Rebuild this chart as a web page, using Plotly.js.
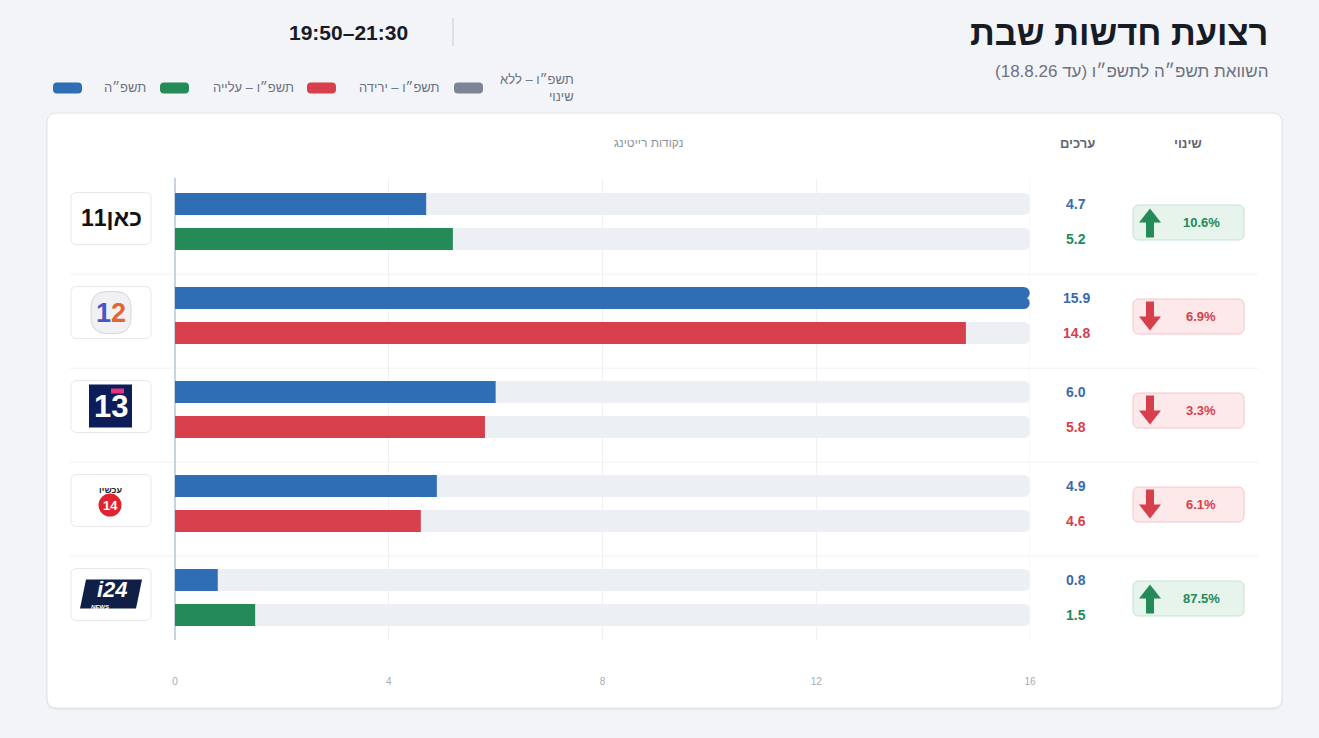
<!DOCTYPE html>
<html lang="he">
<head>
<meta charset="utf-8">
<script src="https://cdn.plot.ly/plotly-3.0.1.min.js"></script>
<style>
  html, body { margin: 0; padding: 0; background: #f3f4f8; }
  #chart { width: 1319px; height: 738px; }
</style>
</head>
<body>
<div id="chart"></div>
<script>
// ---- data ----
const channels   = ["כאן 11", "קשת 12", "רשת 13", "עכשיו 14", "i24NEWS"];
const rating2025 = [4.7, 15.9, 6.0, 4.9, 0.8];   // תשפ"ה
const rating2026 = [5.2, 14.8, 5.8, 4.6, 1.5];   // תשפ"ו
const tickVals   = [0, 4, 8, 12, 16];
const legendLabels = ["תשפ״ה", "תשפ״ו – עלייה", "תשפ״ו – ירידה", "תשפ״ו – ללא<br>שינוי"];

const W = 1319, H = 738;
const FONT = '"Liberation Sans", Arial, sans-serif';
const BLUE = "#2f6db4", GREEN = "#248a58", RED = "#d63f4b", GRAY = "#7c8496";
const TRACK = "#eceff3";

const px = x => x / W;
const py = y => 1 - y / H;
const rtl = s => "\u202B" + s + "\u202C";

const xMax = tickVals[tickVals.length - 1];
const OFF = 0.186, BW = 0.234;
const yA = rating2025.map((_, i) => i - OFF);
const yB = rating2026.map((_, i) => i + OFF);
const dir = rating2026.map((v, i) => v > rating2025[i] ? "up" : v < rating2025[i] ? "down" : "flat");
const colB = dir.map(d => d === "up" ? GREEN : d === "down" ? RED : GRAY);
const pct = rating2026.map((v, i) => Math.abs((v - rating2025[i]) / rating2025[i] * 100).toFixed(1) + "%");

// ---- path helpers: screen pixels (y down), turned into pixel-sizemode paths ----
function rr(x0, y0, x1, y1, r) {
  const Y = v => -v;
  return `M${x0 + r},${Y(y0)} L${x1 - r},${Y(y0)} Q${x1},${Y(y0)} ${x1},${Y(y0 + r)} ` +
         `L${x1},${Y(y1 - r)} Q${x1},${Y(y1)} ${x1 - r},${Y(y1)} L${x0 + r},${Y(y1)} ` +
         `Q${x0},${Y(y1)} ${x0},${Y(y1 - r)} L${x0},${Y(y0 + r)} Q${x0},${Y(y0)} ${x0 + r},${Y(y0)} Z`;
}
function poly(pts) {
  return "M" + pts.map(p => `${p[0]},${-p[1]}`).join(" L") + " Z";
}
function sh(path, yref, yanchor, fill, line, lw, layer) {
  return {
    type: "path", xref: "paper", yref: yref, xsizemode: "pixel", ysizemode: "pixel",
    xanchor: 0, yanchor: yanchor, path: path,
    fillcolor: fill || "rgba(0,0,0,0)",
    line: { color: line || "rgba(0,0,0,0)", width: lw || 0 },
    layer: layer || "above",
  };
}
const page = (path, fill, line, lw, layer) => sh(path, "paper", 1, fill, line, lw, layer);
const row  = (i, path, fill, line, lw) => sh(path, "y", i, fill, line, lw, "above");
function circ(i, cx, dy, r, fill) {
  return { type: "circle", xref: "paper", yref: "y", xsizemode: "pixel", ysizemode: "pixel",
           xanchor: px(cx), yanchor: i, x0: -r, x1: r, y0: -dy - r, y1: -dy + r,
           fillcolor: fill, line: { width: 0 }, layer: "above" };
}

// ---- traces ----
const base = { type: "bar", orientation: "h", width: BW, hoverinfo: "skip", showlegend: false };
const data = [
  { ...base, x: yA.map(() => xMax), y: yA, marker: { color: TRACK, cornerradius: 6 } },
  { ...base, x: yB.map(() => xMax), y: yB, marker: { color: TRACK, cornerradius: 6 } },
  { ...base, x: rating2025, y: yA, marker: { color: BLUE, cornerradius: 6 } },
  { ...base, x: rating2026, y: yB, marker: { color: colB, cornerradius: 6 } },
];

// ---- shapes ----
const shapes = [
  page(rr(46, 113, 1283, 710, 11), "#e7e9ee", null, 0, "below"),
  page(rr(47, 113, 1282, 708, 10), "#ffffff", "#e1e4ea", 1, "below"),
  page("M453,-18 L453,-46", null, "#d6d9df", 1.5, "above"),
  { type: "line", xref: "x", yref: "paper", x0: xMax, x1: xMax, y0: py(640), y1: py(178),
    line: { color: "#eef0f4", width: 1 }, layer: "below" },
];
// legend swatches
const swatchX = [53, 160, 307, 454];
const swatchC = [BLUE, GREEN, RED, GRAY];
swatchX.forEach((x, k) => shapes.push(page(rr(x, 82.5, x + 29, 93.5, 4), swatchC[k])));

// row separators
for (let i = 0; i < channels.length - 1; i++) {
  shapes.push({ type: "line", xref: "paper", yref: "y", x0: px(70), x1: px(1258),
                y0: i + 0.56, y1: i + 0.56, line: { color: "#eef0f3", width: 1 }, layer: "below" });
}

channels.forEach((c, i) => {
  // logo box
  shapes.push(row(i, rr(71, -29, 151, 23, 6), "#ffffff", "#e6e8ec", 1));
  // change badge + arrow
  const up = dir[i] === "up";
  shapes.push(row(i, rr(1133, -16.5, 1244, 18.5, 6),
                  up ? "#e6f4ec" : "#fde8ea", up ? "#c3e3cf" : "#f4c4ca", 1));
  const ax = 1150, s = up ? 1 : -1;
  shapes.push(row(i, poly([[ax, 1 - 14 * s], [ax + 11, 1], [ax + 4, 1], [ax + 4, 1 + 15 * s],
                           [ax - 4, 1 + 15 * s], [ax - 4, 1], [ax - 11, 1]]),
                  up ? GREEN : RED));
});

// logo decorations
shapes.push(row(1, rr(91, -24, 131, 18, 16), "#f1f1f3", "#d5d6da", 1));                 // 12 blob
shapes.push(row(2, rr(89, -25, 132, 18, 0), "#0c1d5a"));                                // 13 square
shapes.push(row(2, rr(111, -21, 124, -16, 0), "#e8327c"));                              // 13 accent
shapes.push(circ(3, 110, 1.5, 11.5, "#e0242f"));                                        // 14 circle
shapes.push(row(4, poly([[86, -18], [142, -18], [136, 11], [80, 11]]), "#0f1f45"));     // i24 plate

// ---- annotations ----
const A = (o) => ({ showarrow: false, font: { family: FONT, size: 13, color: "#6b7280" }, ...o });
const annotations = [
  A({ x: px(1270), y: py(33), xref: "paper", yref: "paper", xanchor: "right", yanchor: "middle",
      text: "<b>" + rtl("רצועת חדשות שבת") + "</b>", font: { family: FONT, size: 34.5, color: "#161b26" } }),
  A({ x: px(1270), y: py(72), xref: "paper", yref: "paper", xanchor: "right", yanchor: "middle",
      text: rtl("השוואת תשפ״ה לתשפ״ו (עד 18.8.26)"), font: { family: FONT, size: 17, color: "#6b7280" } }),
  A({ x: px(348), y: py(33), xref: "paper", yref: "paper", xanchor: "center", yanchor: "middle",
      text: "<b>19:50–21:30</b>", font: { family: FONT, size: 21, color: "#161b26" } }),
  A({ x: px(648), y: py(143), xref: "paper", yref: "paper", xanchor: "center", yanchor: "middle",
      text: rtl("נקודות רייטינג"), font: { family: FONT, size: 12, color: "#8b919b" } }),
  A({ x: px(1077), y: py(143), xref: "paper", yref: "paper", xanchor: "center", yanchor: "middle",
      text: "<b>ערכים</b>", font: { family: FONT, size: 13, color: "#5f6673" } }),
  A({ x: px(1188), y: py(143), xref: "paper", yref: "paper", xanchor: "center", yanchor: "middle",
      text: "<b>שינוי</b>", font: { family: FONT, size: 13, color: "#5f6673" } }),
];
const legendRight = [148, 296, 442, 576];
legendLabels.forEach((t, k) => annotations.push(A({
  x: px(legendRight[k]), y: py(k === 3 ? 88.5 : 88), xref: "paper", yref: "paper",
  xanchor: "right", yanchor: "middle", align: "right",
  text: t.split("<br>").map(rtl).join("<br>"),
  font: { family: FONT, size: 13, color: "#6b7280" } })));

channels.forEach((c, i) => {
  annotations.push(A({ x: px(1076), y: yA[i], xref: "paper", yref: "y", xanchor: "center", yanchor: "middle",
    text: "<b>" + rating2025[i].toFixed(1) + "</b>", font: { family: FONT, size: 14, color: "#3a6aa9" } }));
  annotations.push(A({ x: px(1076), y: yB[i], xref: "paper", yref: "y", xanchor: "center", yanchor: "middle",
    text: "<b>" + rating2026[i].toFixed(1) + "</b>", font: { family: FONT, size: 14, color: colB[i] } }));
  annotations.push(A({ x: px(1201), y: i, yshift: -1, xref: "paper", yref: "y", xanchor: "center", yanchor: "middle",
    text: "<b>" + pct[i] + "</b>", font: { family: FONT, size: 13, color: colB[i] } }));
});

// logo texts
annotations.push(A({ x: px(111), y: 0, yshift: 4, xref: "paper", yref: "y", xanchor: "center", yanchor: "middle",
  text: "<b>" + rtl("כאן11") + "</b>", font: { family: FONT, size: 23, color: "#111111" } }));
annotations.push(A({ x: px(111), y: 1, yshift: 3, xref: "paper", yref: "y", xanchor: "center", yanchor: "middle",
  text: "<b><span style='color:#4a55c9'>1</span><span style='color:#e2662e'>2</span></b>",
  font: { family: FONT, size: 27, color: "#4a55c9" } }));
annotations.push(A({ x: px(111), y: 2, yshift: 3, xref: "paper", yref: "y", xanchor: "center", yanchor: "middle",
  text: "<b>13</b>", font: { family: FONT, size: 31, color: "#ffffff" } }));
annotations.push(A({ x: px(110), y: 3, yshift: 14, xref: "paper", yref: "y", xanchor: "center", yanchor: "middle",
  text: "<b>עכשיו</b>", font: { family: FONT, size: 9, color: "#2b2b2b" } }));
annotations.push(A({ x: px(110), y: 3, yshift: -1.5, xref: "paper", yref: "y", xanchor: "center", yanchor: "middle",
  text: "<b>14</b>", font: { family: FONT, size: 13, color: "#ffffff" } }));
annotations.push(A({ x: px(112), y: 4, yshift: 8, xref: "paper", yref: "y", xanchor: "center", yanchor: "middle",
  text: "<b><i>i24</i></b>", font: { family: FONT, size: 22, color: "#ffffff" } }));
annotations.push(A({ x: px(100), y: 4, yshift: -9, xref: "paper", yref: "y", xanchor: "center", yanchor: "middle",
  text: "<b><i>NEWS</i></b>", font: { family: FONT, size: 6, color: "#ffffff" } }));

// ---- layout ----
const layout = {
  width: W, height: H,
  margin: { l: 0, r: 0, t: 0, b: 0 },
  paper_bgcolor: "#f3f4f8", plot_bgcolor: "rgba(0,0,0,0)",
  barmode: "overlay",
  showlegend: false,
  font: { family: FONT },
  xaxis: {
    domain: [px(175), px(1030)], range: [0, xMax], tickvals: tickVals,
    showgrid: true, gridcolor: "#eef0f4", gridwidth: 1,
    zeroline: true, zerolinecolor: "#c8d2e0", zerolinewidth: 1.5,
    ticks: "outside", ticklen: 32, tickcolor: "rgba(0,0,0,0)",
    tickfont: { family: FONT, size: 10, color: "#a5abb5" },
    showline: false, fixedrange: true,
  },
  yaxis: {
    domain: [py(640), py(178)], range: [4.452, -0.463],
    showgrid: false, zeroline: false, showticklabels: false, ticks: "", showline: false, fixedrange: true,
  },
  shapes: shapes,
  annotations: annotations,
};

Plotly.newPlot("chart", data, layout, { displayModeBar: false, staticPlot: true });
</script>
</body>
</html>
